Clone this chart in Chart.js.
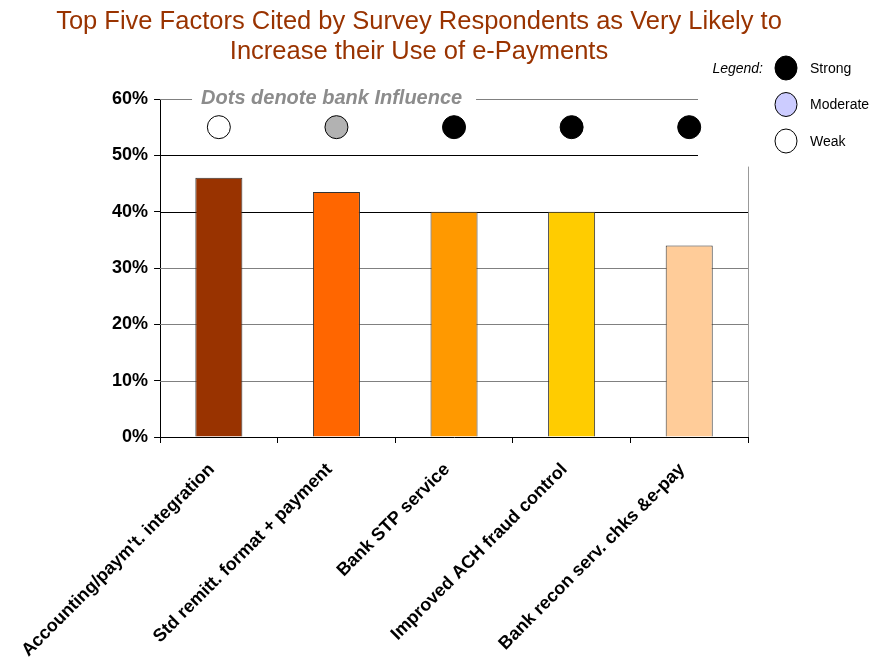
<!DOCTYPE html>
<html>
<head>
<meta charset="utf-8">
<script src="https://cdn.jsdelivr.net/npm/chart.js@4"></script>
<style>
  html, body { margin: 0; padding: 0; background: #fff; }
</style>
</head>
<body>
<canvas id="chart" width="872" height="661"></canvas>
<script>
var categories = [
  "Accounting/paym't. integration",
  'Std remitt. format + payment',
  'Bank STP service',
  'Improved ACH fraud control',
  'Bank recon serv. chks &e-pay'
];
var values = [46, 43.5, 40, 40, 34];
var barColors = ['#993300', '#FF6600', '#FF9900', '#FFCC00', '#FFCC99'];
var influence = ['Weak', 'Moderate', 'Strong', 'Strong', 'Strong'];
var dotLevel = 55;
var yTicks = [0, 10, 20, 30, 40, 50, 60];
var titleLines = ['Top Five Factors Cited by Survey Respondents as Very Likely to',
                  'Increase their Use of e-Payments'];
var legendItems = ['Strong', 'Moderate', 'Weak'];
var legendColors = { Strong: '#000000', Moderate: '#CCCCFF', Weak: '#FFFFFF' };
var dotColors = { Strong: '#000000', Moderate: '#B2B2B2', Weak: '#FFFFFF' };

// gridlines, banner text, title and legend
var decor = {
  id: 'decor',
  beforeDatasetsDraw: function (chart) {
    var c = chart.ctx, a = chart.chartArea, y = chart.scales.y;
    c.save();
    c.lineWidth = 1;
    yTicks.forEach(function (v) {
      if (v === 0) return;
      var py = Math.round(y.getPixelForValue(v)) + 0.5;
      c.beginPath();
      if (v === 60) {
        c.strokeStyle = '#808080';
        c.moveTo(a.left, py); c.lineTo(a.left + 32, py);
        c.moveTo(a.left + 316, py); c.lineTo(a.right - 50, py);
      } else if (v === 50) {
        c.strokeStyle = '#000';
        c.moveTo(a.left, py); c.lineTo(a.right - 50, py);
      } else {
        c.strokeStyle = v === 40 ? '#000' : '#808080';
        c.moveTo(a.left, py); c.lineTo(a.right, py);
      }
      c.stroke();
    });
    // right edge line
    c.strokeStyle = '#999';
    c.beginPath();
    c.moveTo(a.right + 0.5, y.getPixelForValue(48));
    c.lineTo(a.right + 0.5, a.bottom);
    c.stroke();
    // banner text
    c.fillStyle = '#8c8c8c';
    c.font = 'italic bold 20px "Liberation Sans", Arial, sans-serif';
    c.textAlign = 'left';
    c.textBaseline = 'middle';
    c.fillText('Dots denote bank Influence', a.left + 41, y.getPixelForValue(60) - 1);
    c.restore();
  },
  afterDraw: function (chart) {
    var c = chart.ctx;
    c.save();
    c.fillStyle = '#993300';
    c.font = '25.5px "Liberation Sans", Arial, sans-serif';
    c.textAlign = 'center';
    c.textBaseline = 'middle';
    c.fillText(titleLines[0], 419, 22);
    c.fillText(titleLines[1], 419, 52);
    // legend
    c.fillStyle = '#000';
    c.font = 'italic 14px "Liberation Sans", Arial, sans-serif';
    c.textAlign = 'right';
    c.fillText('Legend:', 763, 69);
    c.font = '14px "Liberation Sans", Arial, sans-serif';
    c.textAlign = 'left';
    legendItems.forEach(function (name, i) {
      var cy = 68 + i * 36.5;
      c.beginPath();
      c.ellipse(786, cy, 11, 12, 0, 0, Math.PI * 2);
      c.fillStyle = legendColors[name];
      c.fill();
      c.strokeStyle = '#000';
      c.lineWidth = 1;
      c.stroke();
      c.fillStyle = '#000';
      c.fillText(name, 810, cy + 1);
    });
    c.restore();
  }
};

var ctx = document.getElementById('chart').getContext('2d');
new Chart(ctx, {
  type: 'bar',
  data: {
    labels: categories,
    datasets: [{
      type: 'line',
      data: influence.map(function () { return dotLevel; }),
      showLine: false,
      pointRadius: 11.5,
      pointBackgroundColor: influence.map(function (k) { return dotColors[k]; }),
      pointBorderColor: '#000',
      pointBorderWidth: 1,
      order: 0
    }, {
      data: values,
      backgroundColor: barColors,
      borderColor: '#333',
      borderWidth: 1,
      borderSkipped: 'bottom',
      barPercentage: 0.4,
      categoryPercentage: 1,
      order: 1
    }]
  },
  options: {
    responsive: false,
    animation: false,
    devicePixelRatio: 1,
    layout: { padding: { top: 99, right: 124, left: 0, bottom: 0 } },
    scales: {
      x: {
        afterFit: function (s) { s.height = 224; },
        grid: { drawOnChartArea: false, color: '#000', tickLength: 6 },
        border: { color: '#000' },
        ticks: {
          color: '#000',
          maxRotation: 45,
          minRotation: 45,
          autoSkip: false,
          padding: 9,
          // trailing gap pulls the rotated text away from the tick
          callback: function (v, i) { return categories[i] + '  '; },
          font: { family: '"Liberation Sans", Arial, sans-serif', size: 18, weight: 'bold' }
        }
      },
      y: {
        min: 0,
        max: 60,
        afterFit: function (s) { s.width = 159; },
        afterBuildTicks: function (s) { s.ticks = yTicks.map(function (v) { return { value: v }; }); },
        grid: { drawOnChartArea: false, color: '#000', tickLength: 6 },
        border: { color: '#000' },
        ticks: {
          color: '#000',
          padding: 6,
          callback: function (v) { return v + '%'; },
          font: { family: '"Liberation Sans", Arial, sans-serif', size: 18, weight: 'bold' }
        }
      }
    },
    plugins: {
      legend: { display: false },
      tooltip: { enabled: false },
      title: { display: false }
    }
  },
  plugins: [decor]
});
</script>
</body>
</html>
